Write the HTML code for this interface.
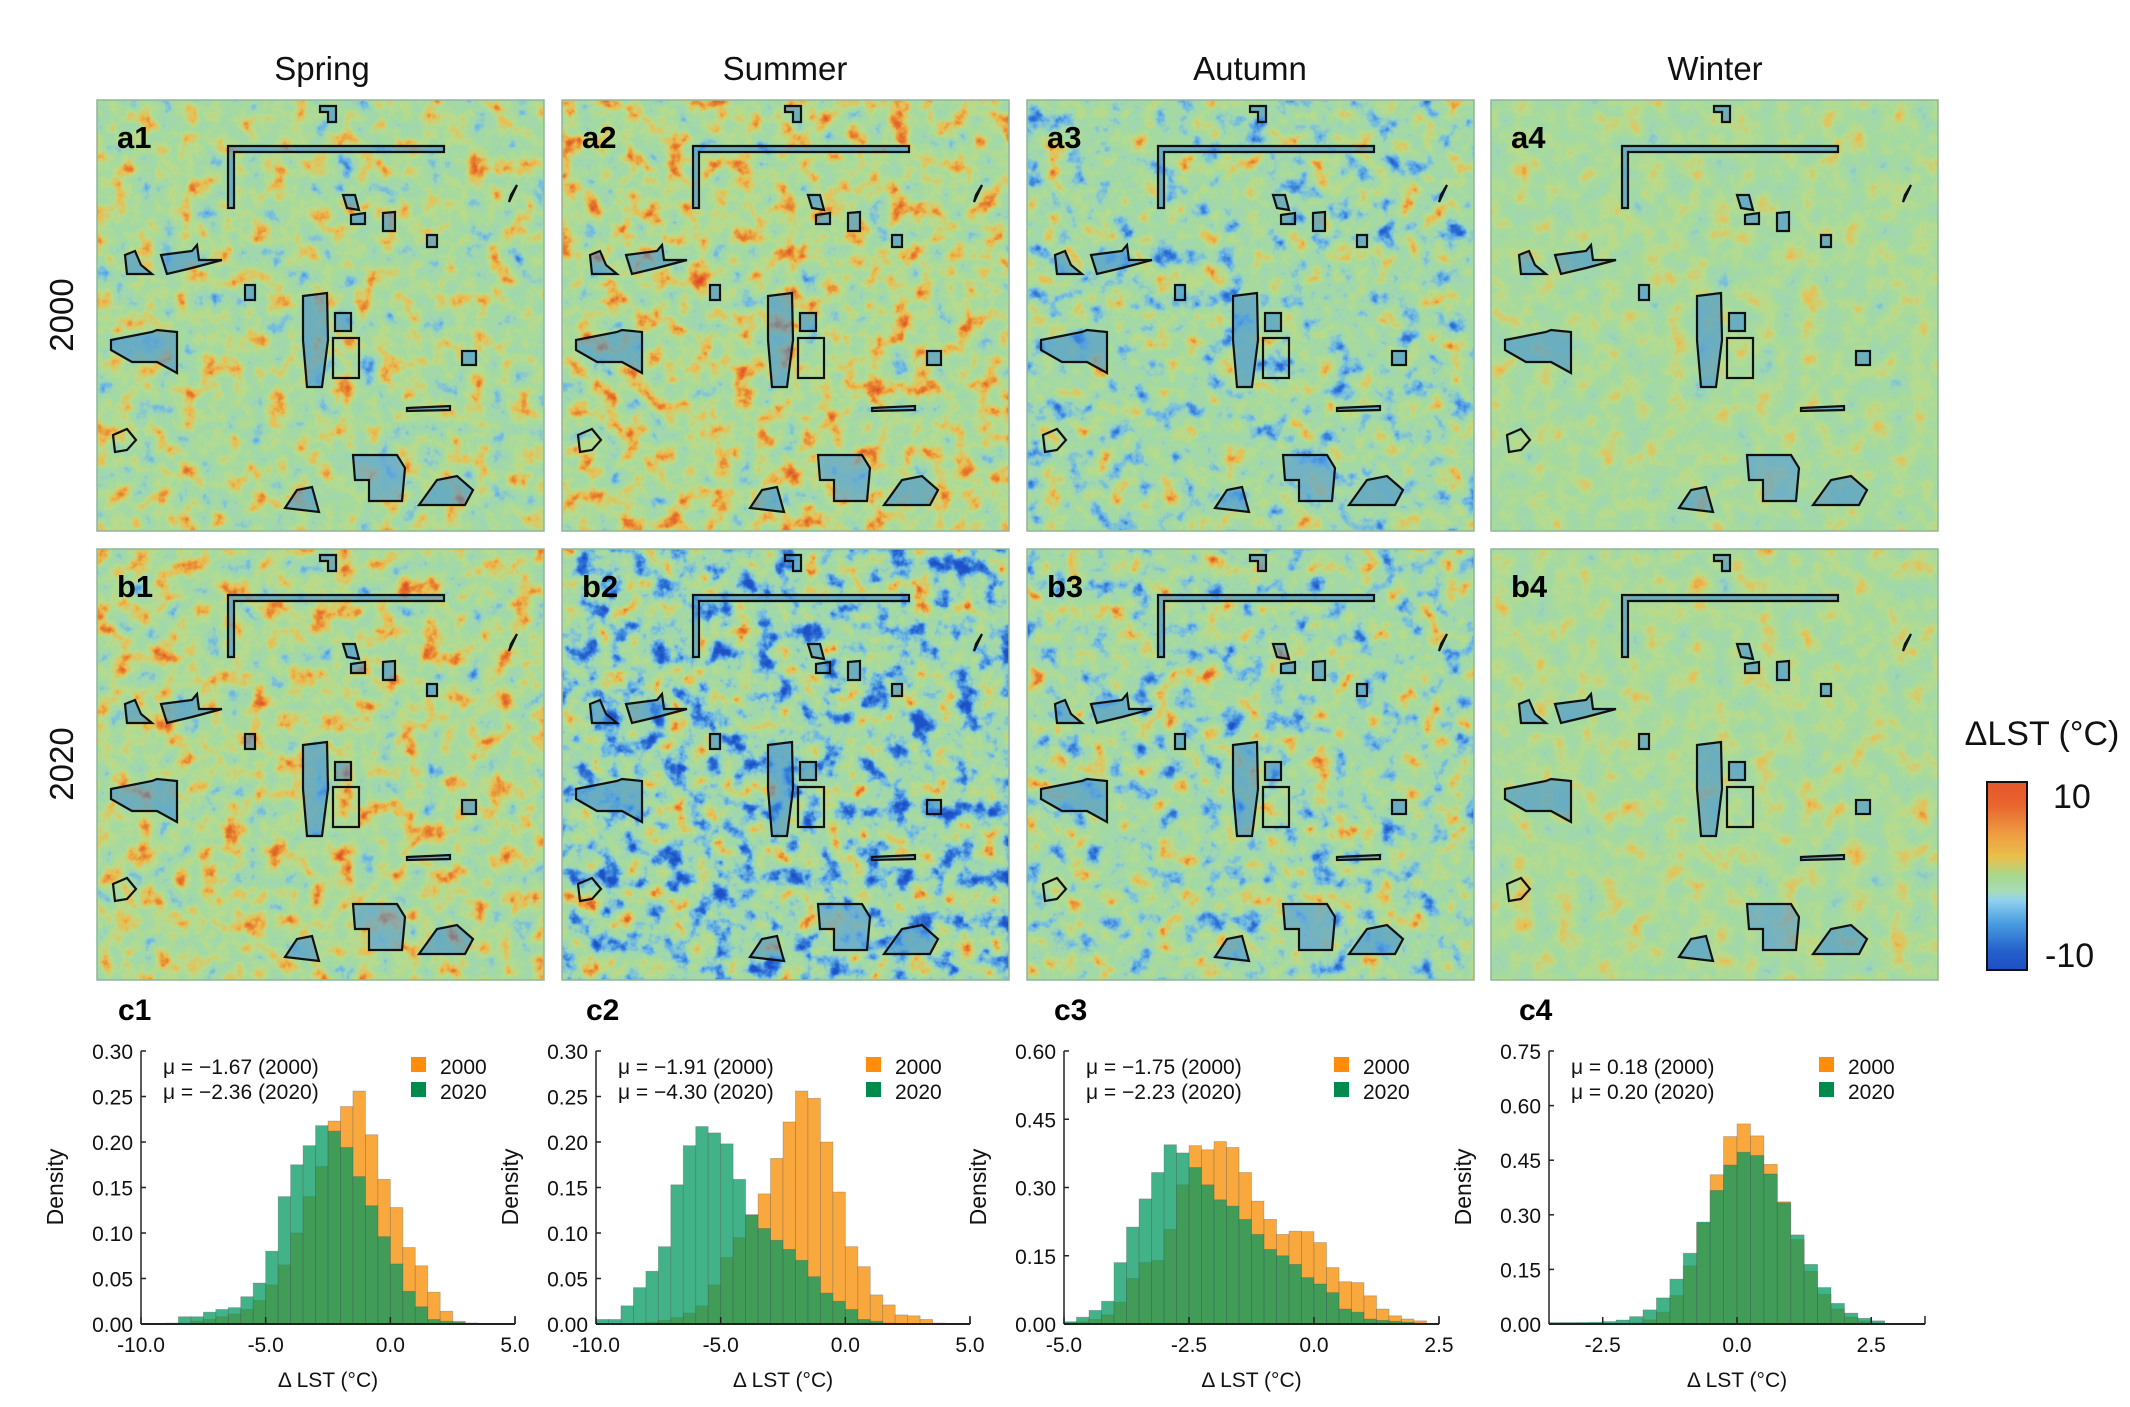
<!DOCTYPE html>
<html><head><meta charset="utf-8">
<style>
html,body{margin:0;padding:0;background:#fff;}
svg{display:block;}
.t{font-family:"Liberation Sans",sans-serif;}
.tk{font-family:"Liberation Sans Narrow","Liberation Sans",sans-serif;font-size:21px;fill:#111;}
</style></head>
<body>
<svg id="s" width="2130" height="1407" viewBox="0 0 2130 1407" xmlns="http://www.w3.org/2000/svg">
<defs>
<linearGradient id="cb" x1="0" y1="0" x2="0" y2="1">
<stop offset="0" stop-color="#e4572b"/>
<stop offset="0.12" stop-color="#e8642e"/>
<stop offset="0.3" stop-color="#efa444"/>
<stop offset="0.4" stop-color="#e9c04a"/>
<stop offset="0.5" stop-color="#a6d88e"/>
<stop offset="0.58" stop-color="#a8dcb8"/>
<stop offset="0.63" stop-color="#8fd1f0"/>
<stop offset="0.75" stop-color="#4a9de0"/>
<stop offset="0.9" stop-color="#2460cc"/>
<stop offset="1" stop-color="#1f4fc4"/>
</linearGradient>
<g id="ol" fill="#3a8ad8" fill-opacity="0.55" stroke="#111" stroke-width="2.2">
<path d="M131,108 L131,46 L347,46 L347,52 L137,52 L137,108 Z"/>
<path d="M223,6 L239,6 L239,22 L231,22 L231,12 L223,12 Z"/>
<path d="M28,155 L38,151 L44,165 L55,174 L30,174 Z"/>
<path d="M64,155 L95,151 L100,145 L102,160 L125,160 L95,168 L70,174 Z"/>
<path d="M14,240 L55,232 L60,230 L80,232 L80,273 L60,262 L35,262 L14,250 Z"/>
<path d="M206,196 L230,193 L231,240 L225,287 L210,287 L206,240 Z"/>
<rect x="238" y="213" width="16" height="18"/>
<rect x="236" y="238" width="26" height="40" fill="none"/>
<rect x="365" y="251" width="14" height="14"/>
<path d="M256,355 L300,355 L308,368 L305,401 L272,401 L272,380 L258,380 Z" fill="#4a94dc"/>
<path d="M322,405 L340,380 L360,376 L376,390 L368,405 Z"/>
<path d="M188,408 L200,390 L215,387 L222,412 Z"/>
<path d="M16,335 L30,329 L39,340 L30,350 L18,352 Z" fill="none"/>
<path d="M310,308 L353,306 L353,310 L310,311 Z"/>
<path d="M246,95 L258,95 L262,110 L250,108 Z"/>
<path d="M254,115 L268,113 L268,124 L254,124 Z"/>
<path d="M286,113 L298,112 L298,131 L286,131 Z"/>
<path d="M330,135 L340,135 L340,147 L330,147 Z"/>
<path d="M414,95 L420,85 L412,102 Z"/>
<rect x="148" y="185" width="10" height="15"/>
</g>
</defs>
<g id="maps"></g>
<g class="t" font-size="33" fill="#111" text-anchor="middle">
<text x="322" y="80">Spring</text>
<text x="785" y="80">Summer</text>
<text x="1250" y="80">Autumn</text>
<text x="1715" y="80">Winter</text>
<text transform="translate(73,315) rotate(-90)">2000</text>
<text transform="translate(73,764) rotate(-90)">2020</text>
</g>
<text class="t" x="2042" y="745" font-size="34" text-anchor="middle" fill="#111">ΔLST (°C)</text>
<rect x="1987" y="782" width="40" height="188" fill="url(#cb)" stroke="#111" stroke-width="2"/>
<text class="t" x="2053" y="808" font-size="34" fill="#111">10</text>
<text class="t" x="2045" y="967" font-size="34" fill="#111">-10</text>
<g id="hists"></g>
</svg>
<script>
var NS="http://www.w3.org/2000/svg";
function el(tag,attrs,parent,txt){var e=document.createElementNS(NS,tag);for(var k in attrs)e.setAttribute(k,attrs[k]);if(txt!==undefined)e.textContent=txt;(parent||document.getElementById('s')).appendChild(e);return e;}
var defs=document.querySelector('defs');
var cm=[[30,80,200],[30,80,200],[50,120,215],[110,185,230],[160,215,178],[165,218,160],[185,220,140],[235,190,80],[230,120,45],[220,70,40],[220,70,40]];
function tv(k){return cm.map(function(c){return (c[k]/255).toFixed(3);}).join(' ');}
var R=tv(0),G=tv(1),B=tv(2);
function mkFilter(id,slope,inter,seed,freq){
 var f=el('filter',{id:id,x:0,y:0,width:1,height:1,'color-interpolation-filters':'sRGB'},defs);
 el('feTurbulence',{type:'fractalNoise',baseFrequency:freq,numOctaves:4,seed:seed},f);
 el('feColorMatrix',{type:'matrix',values:'1 0 0 0 0  1 0 0 0 0  1 0 0 0 0  0 0 0 0 1'},f);
 var c=el('feComponentTransfer',{},f);
 ['R','G','B'].forEach(function(ch){el('feFunc'+ch,{type:'linear',slope:slope,intercept:inter},c);});
 var c2=el('feComponentTransfer',{},f);
 el('feFuncR',{type:'table',tableValues:R},c2);el('feFuncG',{type:'table',tableValues:G},c2);el('feFuncB',{type:'table',tableValues:B},c2);
}
var cols=[97,562,1027,1491],rows=[100,549],W=447,H=431;
var cfg=[[ [0.75,0.16,3],[0.8,0.17,5],[0.85,0.05,7],[0.5,0.28,9] ],
         [ [0.8,0.16,4],[1.1,-0.12,6],[0.9,0.03,8],[0.5,0.29,10] ]];
var labels=[['a1','a2','a3','a4'],['b1','b2','b3','b4']];
var maps=document.getElementById('maps');
for(var r=0;r<2;r++)for(var c=0;c<4;c++){
 var id='f'+r+c,p=cfg[r][c];mkFilter(id,p[0],p[1],p[2],0.045);
 el('rect',{x:cols[c],y:rows[r],width:W,height:H,fill:'#fff',filter:'url(#'+id+')'},maps);
 el('rect',{x:cols[c],y:rows[r],width:W,height:H,fill:'none',stroke:'#8fb59a','stroke-width':1.5},maps);
 el('use',{href:'#ol',x:cols[c],y:rows[r]},maps);
 el('text',{x:cols[c]+20,y:rows[r]+48,'font-size':31,'font-weight':'bold','font-family':'Liberation Sans, sans-serif',fill:'#000'},maps,labels[r][c]);
}
var hs=document.getElementById('hists');
var Y0=1324,Y1=1051;
function gauss(m,sl,sr,a){return function(x){var s=x<m?sl:sr;return a*Math.exp(-(x-m)*(x-m)/(2*s*s));};}
function drawHist(o){
 var g=el('g',{},hs);
 var sx=function(v){return o.x0+(v-o.xmin)/(o.xmax-o.xmin)*(o.x1-o.x0);};
 var sy=function(v){return Y0-v/o.ymax*(Y0-Y1);};
 function bars(vals,start,w,fill,op){vals.forEach(function(v,i){if(v<=0)return;var a=sx(start+i*w),b=sx(start+(i+1)*w);el('rect',{x:a,y:sy(v),width:b-a,height:Y0-sy(v),fill:fill,'fill-opacity':op,stroke:'#555','stroke-opacity':0.35,'stroke-width':0.8},g);});}
 bars(o.orange,o.start,o.w,'#f9a12e',0.92);
 bars(o.green,o.start,o.w,'#009860',0.74);
 el('line',{x1:o.x0,y1:Y0,x2:o.x1,y2:Y0,stroke:'#222','stroke-width':2},g);
 el('line',{x1:o.x0,y1:Y0,x2:o.x0,y2:Y1,stroke:'#222','stroke-width':1.5},g);
 el('line',{x1:o.x1,y1:Y0,x2:o.x1,y2:Y0-8,stroke:'#222','stroke-width':1.5},g);
 o.yt.forEach(function(v){var y=sy(v);el('line',{x1:o.x0,y1:y,x2:o.x0+5,y2:y,stroke:'#222','stroke-width':1.5},g);el('text',{x:o.x0-8,y:y+8,'text-anchor':'end','class':'tk'},g,v.toFixed(2));});
 o.xt.forEach(function(v){var x=sx(v);el('line',{x1:x,y1:Y0,x2:x,y2:Y0-7,stroke:'#222','stroke-width':1.5},g);el('text',{x:x,y:1352,'text-anchor':'middle','class':'tk'},g,v.toFixed(1));});
 el('text',{x:(o.x0+o.x1)/2,y:1387,'text-anchor':'middle','class':'tk','font-size':23},g,'Δ LST (°C)');
 el('text',{transform:'translate('+(o.x0-78)+',1187) rotate(-90)','text-anchor':'middle','font-size':23,'font-family':'Liberation Sans, sans-serif',fill:'#111'},g,'Density');
 el('text',{x:o.x0+22,y:1074,'class':'tk'},g,o.m1);
 el('text',{x:o.x0+22,y:1099,'class':'tk'},g,o.m2);
 el('rect',{x:o.x0+270,y:1057,width:15,height:15,fill:'#ff8c0a'},g);
 el('rect',{x:o.x0+270,y:1082,width:15,height:15,fill:'#008a4c'},g);
 el('text',{x:o.x0+299,y:1074,'class':'tk'},g,'2000');
 el('text',{x:o.x0+299,y:1099,'class':'tk'},g,'2020');
 el('text',{x:o.lx,y:1020,'font-size':30,'font-weight':'bold','font-family':'Liberation Sans, sans-serif',fill:'#000'},g,o.lab);
}
function fromFn(f,start,w,n){var a=[];for(var i=0;i<n;i++)a.push(Math.max(0,f(start+(i+0.5)*w)));return a;}
drawHist({x0:141,x1:515,xmin:-10,xmax:5,ymax:0.3,start:-10,w:0.5,lab:'c1',lx:118,
 yt:[0,0.05,0.1,0.15,0.2,0.25,0.3],xt:[-10,-5,0,5],m1:'μ = −1.67 (2000)',m2:'μ = −2.36 (2020)',
 orange:[0,0,0,0.001,0.003,0.005,0.008,0.011,0.016,0.026,0.043,0.065,0.1,0.14,0.173,0.223,0.239,0.256,0.208,0.159,0.128,0.084,0.064,0.035,0.014,0.003,0.001,0],
 green:[0,0,0.001,0.008,0.008,0.013,0.016,0.018,0.03,0.045,0.08,0.14,0.175,0.196,0.218,0.212,0.194,0.162,0.13,0.096,0.066,0.036,0.019,0.005,0.003,0.002,0.001,0]});
drawHist({x0:596,x1:970,xmin:-10,xmax:5,ymax:0.3,start:-10,w:0.5,lab:'c2',lx:586,
 yt:[0,0.05,0.1,0.15,0.2,0.25,0.3],xt:[-10,-5,0,5],m1:'μ = −1.91 (2000)',m2:'μ = −4.30 (2020)',
 orange:[0,0,0,0.001,0.002,0.004,0.007,0.012,0.02,0.043,0.073,0.095,0.12,0.143,0.182,0.222,0.256,0.248,0.2,0.145,0.085,0.063,0.032,0.021,0.01,0.009,0.005,0.001],
 green:[0.005,0.005,0.02,0.04,0.058,0.085,0.153,0.196,0.217,0.21,0.198,0.159,0.12,0.105,0.092,0.082,0.07,0.052,0.034,0.025,0.016,0.005,0.003,0.001,0,0,0,0]});
drawHist({x0:1064,x1:1439,xmin:-5,xmax:2.5,ymax:0.6,start:-5,w:0.25,lab:'c3',lx:1054,
 yt:[0,0.15,0.3,0.45,0.6],xt:[-5,-2.5,0,2.5],m1:'μ = −1.75 (2000)',m2:'μ = −2.23 (2020)',
 orange:[0.003,0.005,0.01,0.02,0.048,0.1,0.135,0.14,0.208,0.306,0.392,0.383,0.401,0.388,0.333,0.27,0.23,0.197,0.204,0.203,0.179,0.124,0.093,0.091,0.062,0.033,0.018,0.011,0.007,0],
 green:[0.005,0.015,0.03,0.05,0.135,0.213,0.275,0.333,0.394,0.376,0.344,0.306,0.273,0.259,0.23,0.197,0.164,0.15,0.131,0.102,0.088,0.069,0.033,0.026,0.011,0.008,0.006,0.004,0.002,0]});
drawHist({x0:1549,x1:1925,xmin:-3.5,xmax:3.5,ymax:0.75,start:-3.5,w:0.25,lab:'c4',lx:1519,
 yt:[0,0.15,0.3,0.45,0.6,0.75],xt:[-2.5,0,2.5],m1:'μ = 0.18 (2000)',m2:'μ = 0.20 (2020)',
 orange:fromFn(gauss(0.1,0.62,0.78,0.55),-3.5,0.25,28),
 green:fromFn(function(x){return gauss(0.2,0.8,0.8,0.47)(x)+0.004;},-3.5,0.25,25)});
</script>
</body></html>
